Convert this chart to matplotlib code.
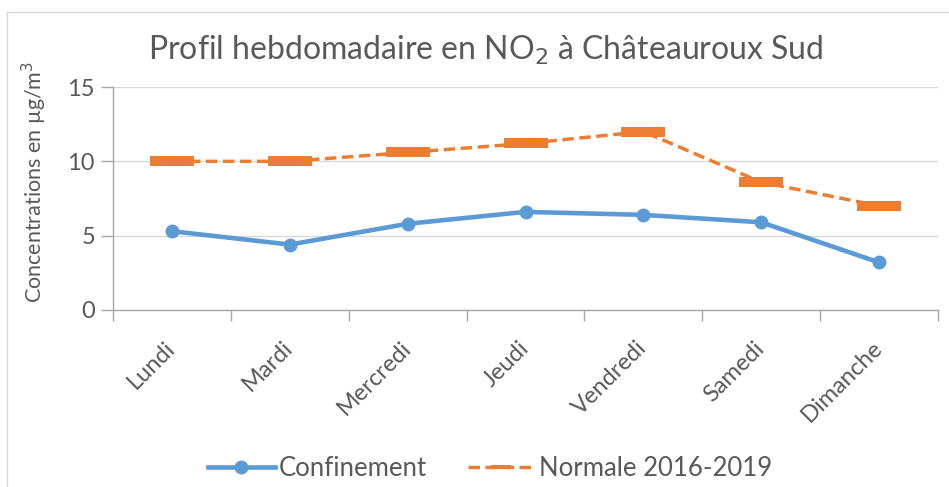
import numpy as np
import matplotlib
matplotlib.use("Agg")
import matplotlib.pyplot as plt
from matplotlib.lines import Line2D

# weekly NO2 profile
days = ["Lundi", "Mardi", "Mercredi", "Jeudi", "Vendredi", "Samedi", "Dimanche"]
confinement = [5.3, 4.4, 5.8, 6.6, 6.4, 5.9, 3.2]
normale = [10.0, 10.0, 10.6, 11.2, 12.0, 8.6, 7.0]
y_ticks = [0, 5, 10, 15]

BLUE = "#5B9BD5"
ORANGE = "#ED7D31"
TXT = "#595959"
GRID = "#D9D9D9"
AXIS = "#A6A6A6"

plt.rcParams["font.family"] = ["Lato", "DejaVu Sans"]

fig = plt.figure(figsize=(9.49, 4.87), dpi=100)
ax = fig.add_axes([113 / 949, 1 - 310 / 487, (938 - 113) / 949, (310 - 87) / 487])

x = np.arange(len(days))
# flat "dash" marker like the Excel one
dash_marker = [(-1, -0.24), (1, -0.24), (1, 0.24), (-1, 0.24), (-1, -0.24)]
dash_style = (0, (3.3, 1.6))

ax.plot(x, normale, color=ORANGE, lw=2.5, ls=dash_style,
        marker=dash_marker, markersize=31, markeredgewidth=0, zorder=3,
        label="Normale 2016-2019")
ax.plot(x, confinement, color=BLUE, lw=3.3, marker="o", markersize=9,
        zorder=4, label="Confinement")

ax.set_xlim(-0.5, len(days) - 0.5)
ax.set_ylim(0, 15)
ax.set_yticks(y_ticks)
ax.yaxis.grid(True, color=GRID, lw=1)
ax.set_axisbelow(True)

# ticks between categories, labels at centres
ax.set_xticks(x)
ax.set_xticklabels(days, rotation=45, ha="right", va="center",
                   rotation_mode="anchor")
ax.set_xticks(np.arange(-0.5, len(days)), minor=True)
ax.tick_params(axis="x", which="major", length=0, pad=25, labelsize=17,
               labelcolor=TXT)
ax.tick_params(axis="x", which="minor", length=8, width=1, color=AXIS,
               direction="out")
ax.tick_params(axis="y", length=9, width=1, color=AXIS, labelsize=17,
               labelcolor=TXT, pad=4)

for s in ["top", "right"]:
    ax.spines[s].set_visible(False)
for s in ["left", "bottom"]:
    ax.spines[s].set_color(AXIS)
    ax.spines[s].set_linewidth(1)

# axis title placed in figure coords, like the Excel one
fig.text(34 / 949, 1 - 182 / 487, "Concentrations en µg/m$^3$", rotation=90,
         ha="center", va="center", fontsize=15.5, color=TXT)

fig.text(486 / 949, 1 - 50 / 487, "Profil hebdomadaire en NO$_2$ à Châteauroux Sud",
         ha="center", va="center", fontsize=23, color=TXT)

# legend (order as in the reference)
handles = [
    Line2D([], [], color=BLUE, lw=3.3, marker="o", markersize=9),
    Line2D([], [], color=ORANGE, lw=2.5, ls=dash_style,
           marker=dash_marker, markersize=15, markeredgewidth=0),
]
fig.legend(handles, ["Confinement", "Normale 2016-2019"], loc="center",
           bbox_to_anchor=(490 / 949, 1 - 468 / 487), ncol=2, frameon=False,
           fontsize=18.5, labelcolor=TXT, handlelength=2.6, handletextpad=0.15,
           columnspacing=1.6)

# light chart-area border (left and top visible)
fig.add_artist(Line2D([7 / 949, 7 / 949], [0, 1 - 12 / 487], transform=fig.transFigure,
                      color=GRID, lw=1))
fig.add_artist(Line2D([7 / 949, 1], [1 - 12 / 487, 1 - 12 / 487], transform=fig.transFigure,
                      color=GRID, lw=1))

fig.savefig("out.png", dpi=100)
